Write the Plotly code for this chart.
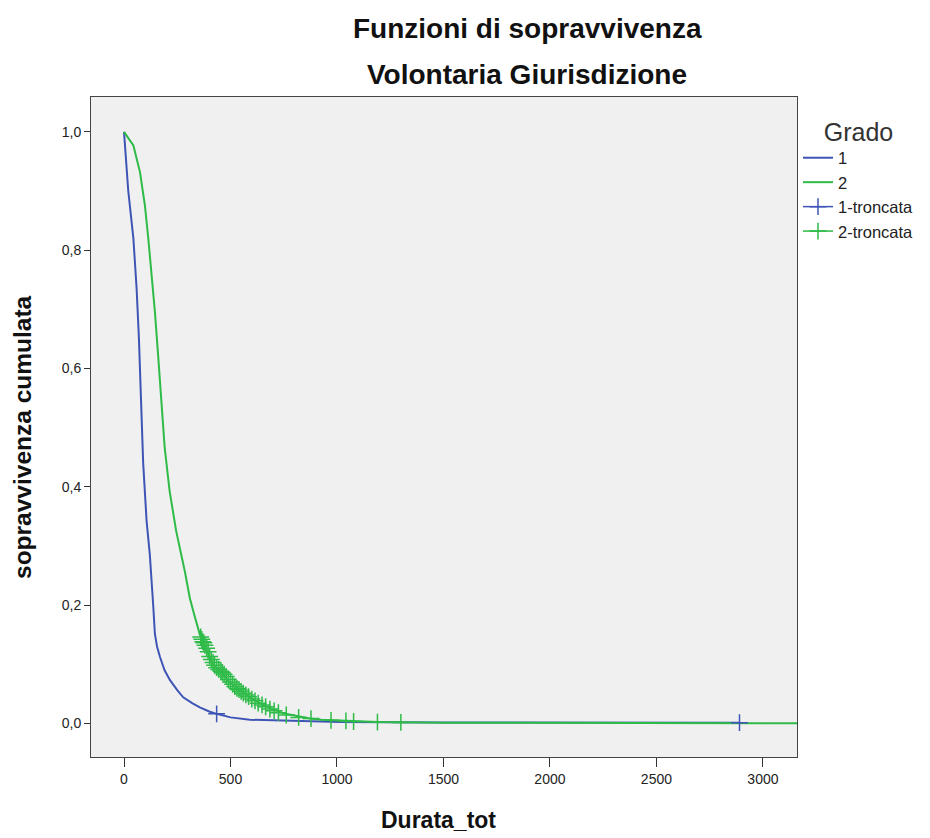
import plotly.graph_objects as go

# ---- Data ----
grado1_x = [0, 8, 20, 44, 59, 70, 80, 90, 106, 121, 137, 145, 155, 169, 190, 216, 250, 278, 320, 356, 400, 435, 500, 591, 700, 779, 1014, 1500, 2000, 2890]
grado1_y = [1.0, 0.96, 0.90, 0.82, 0.736, 0.651, 0.55, 0.44, 0.342, 0.286, 0.20, 0.151, 0.13, 0.112, 0.09, 0.073, 0.056, 0.044, 0.034, 0.027, 0.02, 0.016, 0.01, 0.006, 0.005, 0.004, 0.002, 0.0015, 0.001, 0.001]

grado2_x = [0, 10, 20, 44, 75, 98, 114, 129, 145, 160, 173, 191, 214, 245, 285, 309, 325, 356, 372, 403, 415, 466, 493, 544, 586, 638, 679, 747, 800, 872, 926, 980, 1100, 1191, 1500, 2000, 3160]
grado2_y = [1.0, 0.995, 0.99, 0.977, 0.932, 0.876, 0.82, 0.764, 0.696, 0.623, 0.55, 0.466, 0.393, 0.325, 0.258, 0.212, 0.19, 0.15, 0.135, 0.112, 0.10, 0.084, 0.07, 0.056, 0.045, 0.034, 0.027, 0.017, 0.013, 0.008, 0.006, 0.005, 0.003, 0.002, 0.001, 0.0005, 0.0]

cens1_x = [435, 2890]
cens1_y = [0.016, 0.001]

cens2_x = [360, 365, 370, 375, 380, 388, 395, 402, 410, 418, 425, 435, 445, 455, 462, 470, 480, 490, 500, 510,
           520, 530, 540, 550, 560, 572, 585, 600, 615, 630, 648, 665, 685, 705, 725, 762, 820, 878, 972, 1042, 1078, 1190, 1300]
cens2_y = [0.146, 0.142, 0.138, 0.136, 0.132, 0.127, 0.121, 0.113, 0.108, 0.103, 0.098, 0.094, 0.091, 0.088, 0.086, 0.083, 0.079, 0.074, 0.07, 0.066,
           0.062, 0.059, 0.057, 0.054, 0.051, 0.048, 0.045, 0.041, 0.038, 0.034, 0.031, 0.028, 0.024, 0.021, 0.018, 0.014, 0.01, 0.008, 0.005, 0.004, 0.003, 0.002, 0.0015]

x_ticks = [0, 500, 1000, 1500, 2000, 2500, 3000]
y_ticks = [0.0, 0.2, 0.4, 0.6, 0.8, 1.0]

BLUE = "#3f55b6"
GREEN = "#2fbb48"
FONT = "Liberation Sans, Arial, sans-serif"


def gapped(xs, ys):
    gx, gy = [], []
    for a, b in zip(xs, ys):
        gx += [a, None]
        gy += [b, None]
    return gx, gy


fig = go.Figure()
fig.add_trace(go.Scatter(x=grado1_x, y=grado1_y, mode="lines", name="1",
                         line=dict(color=BLUE, width=2)))
fig.add_trace(go.Scatter(x=grado2_x, y=grado2_y, mode="lines", name="2",
                         line=dict(color=GREEN, width=2)))
c1x, c1y = gapped(cens1_x, cens1_y)
fig.add_trace(go.Scatter(x=c1x, y=c1y, mode="lines+markers", name="1-troncata", connectgaps=False,
                         line=dict(color=BLUE, width=1.5),
                         marker=dict(symbol="cross-thin", size=12, line=dict(color=BLUE, width=1.5))))
c2x, c2y = gapped(cens2_x, cens2_y)
fig.add_trace(go.Scatter(x=c2x, y=c2y, mode="lines+markers", name="2-troncata", connectgaps=False,
                         line=dict(color=GREEN, width=1.5),
                         marker=dict(symbol="cross-thin", size=12, line=dict(color=GREEN, width=1.5))))

W, H = 930, 838
# plot-area edges in window pixels (body margin removed by post_script)
l, r, t, b = 91, 797, 97, 757
pw, ph = r - l, b - t


def px(xw):
    return (xw - l) / pw


def py(yw):
    return (b - yw) / ph


fig.update_layout(
    width=W, height=H,
    margin=dict(l=l, r=W - r, t=t, b=H - b, autoexpand=False),
    paper_bgcolor="white",
    plot_bgcolor="#f0f0f0",
    separators=",.",
    font=dict(family=FONT, size=14, color="#222"),
    showlegend=True,
    legend=dict(
        x=px(798), y=py(108), xanchor="left", yanchor="top",
        title=dict(text="Grado", side="top center", font=dict(size=25, color="#333")),
        font=dict(size=16.5, color="#222"),
        bgcolor="rgba(0,0,0,0)",
        tracegroupgap=0,
        itemwidth=30,
    ),
    xaxis=dict(
        range=[-155, 3160],
        tickvals=x_ticks, tickformat="d",
        ticks="outside", ticklen=9, tickwidth=1, tickcolor="#333",
        showgrid=False, zeroline=False,
        showline=True, linecolor="#444", linewidth=1, mirror=True,
        tickfont=dict(size=14, color="#222"),
    ),
    yaxis=dict(
        range=[-0.057, 1.059],
        tickvals=y_ticks, tickformat=".1f",
        ticks="outside", ticklen=6, tickwidth=1, tickcolor="#333",
        showgrid=False, zeroline=False,
        showline=True, linecolor="#444", linewidth=1, mirror=True,
        tickfont=dict(size=14, color="#222"),
    ),
    annotations=[
        dict(text="<b>Funzioni di sopravvivenza</b>", x=px(527), y=py(28), xref="paper", yref="paper",
             xanchor="center", yanchor="middle", showarrow=False, font=dict(size=28, color="#111")),
        dict(text="<b>Volontaria Giurisdizione</b>", x=px(527), y=py(75), xref="paper", yref="paper",
             xanchor="center", yanchor="middle", showarrow=False, font=dict(size=28, color="#111")),
        dict(text="<b>Durata_tot</b>", x=px(438), y=py(820), xref="paper", yref="paper",
             xanchor="center", yanchor="middle", showarrow=False, font=dict(size=23, color="#111")),
        dict(text="<b>sopravvivenza cumulata</b>", x=px(22), y=py(437), xref="paper", yref="paper",
             xanchor="center", yanchor="middle", showarrow=False, textangle=-90, font=dict(size=24.5, color="#111")),
    ],
)

fig.write_html("out.html", config={"displayModeBar": False},
               post_script="document.body.style.margin='0';document.body.style.overflow='hidden';")
